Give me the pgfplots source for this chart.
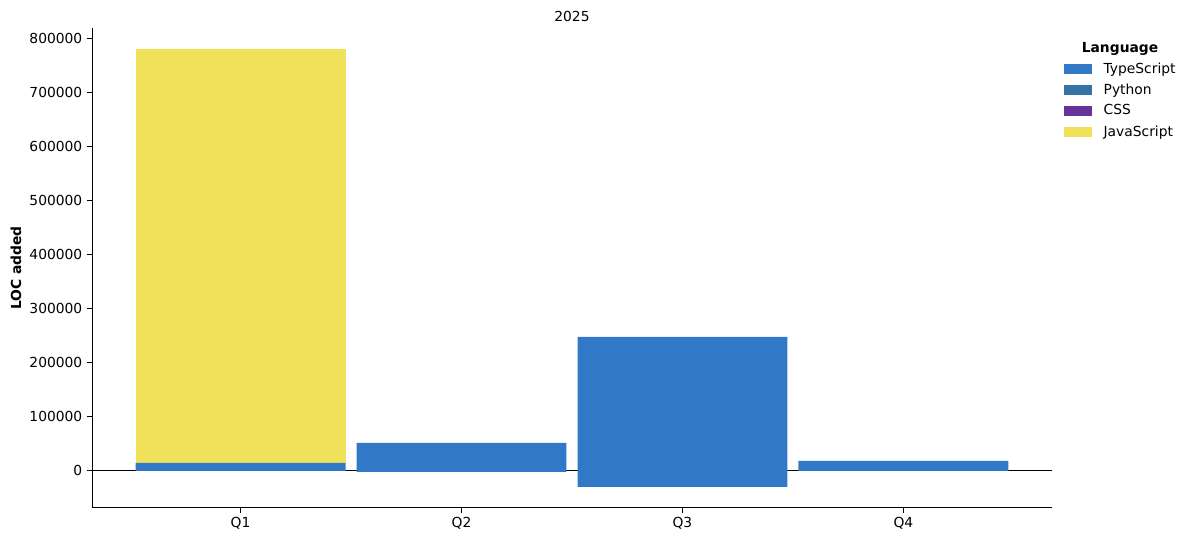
\documentclass[border=0pt]{standalone}
\usepackage{fontspec}
\setmainfont{DejaVu Sans}
\usepackage{pgfplots}
\pgfplotsset{compat=1.18}
\definecolor{ts}{HTML}{3178C6}
\definecolor{py}{HTML}{3572A5}
\definecolor{css}{HTML}{663399}
\definecolor{js}{HTML}{F1E05A}
\begin{document}
\begin{tikzpicture}[font=\fontsize{10}{12}\selectfont]
\begin{axis}[
  name=ax,
  scale only axis, width=693.8pt, height=346.9pt,
  ybar stacked, bar width=0.95,
  xmin=-0.6725, xmax=3.6725, ymin=-68500, ymax=820000,
  xtick={0,1,2,3}, xticklabels={Q1,Q2,Q3,Q4},
  ytick={0,100000,...,800000},
  scaled y ticks=false,
  /pgf/number format/assume math mode=true,
  yticklabel style={/pgf/number format/fixed, /pgf/number format/1000 sep={}},
  axis x line*=bottom, axis y line*=left,
  axis line style={line width=0.6pt},
  tick align=outside, major tick length=3.5pt,
  tick style={black, line width=0.6pt},
  title={2025}, title style={yshift=-5pt},
  ylabel={\textbf{LOC added}}, ylabel style={yshift=-1pt},
  legend cell align=left,
  legend image code/.code={\fill[#1] (0pt,-3.6pt) rectangle (20pt,3.6pt);},
  legend style={draw=none, fill=none, at={(rel axis cs:1.0125,0.934)}, anchor=north west,
    row sep=2.1pt, column sep=6.5pt, inner xsep=0pt, inner ysep=0pt, font=\fontsize{10}{12}\selectfont},
]
\addplot[fill=ts, draw=none, stack plots=false, forget plot] coordinates {(1,-1850) (2,-29600)};
\addplot[fill=ts, draw=none] coordinates {(0,14800) (1,51850) (2,248000) (3,18500)};
\addlegendentry{TypeScript}
\addplot[fill=py, draw=none] coordinates {(0,0) (1,0) (2,0) (3,0)};
\addlegendentry{Python}
\addplot[fill=css, draw=none] coordinates {(0,0) (1,0) (2,0) (3,0)};
\addlegendentry{CSS}
\addplot[fill=js, draw=none] coordinates {(0,766200) (1,0) (2,0) (3,0)};
\addlegendentry{JavaScript}
\draw[black, line width=0.6pt] ({rel axis cs:0,0}|-{axis cs:0,0}) -- ({rel axis cs:1,0}|-{axis cs:0,0});
\end{axis}
\node[font=\fontsize{10}{12}\selectfont\bfseries] at ([xshift=49.2pt,yshift=-15.2pt]ax.north east) {Language};
\pgfresetboundingbox
\path[use as bounding box] ([xshift=-66.5pt,yshift=-24.6pt]ax.south west) rectangle ([xshift=100.5pt,yshift=20.2pt]ax.north east);
\end{tikzpicture}
\end{document}
